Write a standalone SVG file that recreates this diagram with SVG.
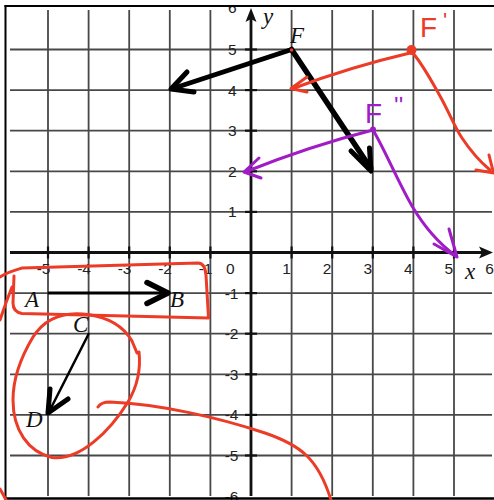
<svg xmlns="http://www.w3.org/2000/svg" width="494" height="500" viewBox="0 0 494 500">
<style>
.grid line{stroke:#484848;stroke-width:1.8}
.ax{stroke:#111;stroke-width:2.8;fill:none}
.tick{stroke:#111;stroke-width:2.2}
.num{font-family:"Liberation Sans",Arial,sans-serif;font-size:15.5px;fill:#222}
.xl{text-anchor:end}
.var{font-family:"Liberation Serif","Times New Roman",serif;font-style:italic;font-size:23px;fill:#111}
.vec{stroke:#000;fill:none;stroke-linecap:round;stroke-linejoin:round}
.red{stroke:#ec3b26;stroke-width:3;fill:none;stroke-linecap:round;stroke-linejoin:round}
.pur{stroke:#a01cc6;stroke-width:3;fill:none;stroke-linecap:round;stroke-linejoin:round}
.hand{font-family:"Liberation Sans",Arial,sans-serif;font-size:28px}
</style>
<rect width="494" height="500" fill="#fff"/>
<g id="grid" class="grid">
<line x1="48" y1="10" x2="48" y2="496"/>
<line x1="88.6" y1="10" x2="88.6" y2="496"/>
<line x1="129.2" y1="10" x2="129.2" y2="496"/>
<line x1="169.8" y1="10" x2="169.8" y2="496"/>
<line x1="210.4" y1="10" x2="210.4" y2="496"/>
<line x1="291.6" y1="10" x2="291.6" y2="496"/>
<line x1="332.2" y1="10" x2="332.2" y2="496"/>
<line x1="372.8" y1="10" x2="372.8" y2="496"/>
<line x1="413.4" y1="10" x2="413.4" y2="496"/>
<line x1="454" y1="10" x2="454" y2="496"/>
<line x1="10" y1="49.5" x2="492" y2="49.5"/>
<line x1="10" y1="90.1" x2="492" y2="90.1"/>
<line x1="10" y1="130.7" x2="492" y2="130.7"/>
<line x1="10" y1="171.3" x2="492" y2="171.3"/>
<line x1="10" y1="211.9" x2="492" y2="211.9"/>
<line x1="10" y1="293.1" x2="492" y2="293.1"/>
<line x1="10" y1="333.7" x2="492" y2="333.7"/>
<line x1="10" y1="374.3" x2="492" y2="374.3"/>
<line x1="10" y1="414.9" x2="492" y2="414.9"/>
<line x1="10" y1="455.5" x2="492" y2="455.5"/>
</g>
<g id="tick-labels" class="num">
<text x="236.5" y="12.5" text-anchor="end">6</text>
<text x="236.5" y="55" text-anchor="end">5</text>
<text x="236.5" y="95.6" text-anchor="end">4</text>
<text x="236.5" y="136.2" text-anchor="end">3</text>
<text x="236.5" y="176.8" text-anchor="end">2</text>
<text x="236.5" y="217.4" text-anchor="end">1</text>
<text x="238.5" y="298.6" text-anchor="end">-1</text>
<text x="238.5" y="339.2" text-anchor="end">-2</text>
<text x="238.5" y="379.8" text-anchor="end">-3</text>
<text x="238.5" y="420.4" text-anchor="end">-4</text>
<text x="238.5" y="461" text-anchor="end">-5</text>
<text x="238.5" y="501.6" text-anchor="end">-6</text>
<text class="xl" x="50.5" y="274">-5</text>
<text class="xl" x="91" y="274">-4</text>
<text class="xl" x="131.5" y="274">-3</text>
<text class="xl" x="172" y="274">-2</text>
<text class="xl" x="212.5" y="274">-1</text>
<text class="xl" x="234.5" y="274">0</text>
<text class="xl" x="290.8" y="274">1</text>
<text class="xl" x="331.4" y="274">2</text>
<text class="xl" x="372" y="274">3</text>
<text class="xl" x="412.6" y="274">4</text>
<text class="xl" x="453.2" y="274">5</text>
<text class="xl" x="493.8" y="274">6</text>
</g>
<rect x="0" y="0" width="494" height="6" fill="#fff"/>
<g id="axes">
<line class="ax" x1="10" y1="252.5" x2="484" y2="252.5"/>
<line class="ax" x1="251" y1="496" x2="251" y2="18"/>
<path d="M493,252.5 L479,246.5 L482,252.5 L479,258.5 Z" fill="#111"/>
<path d="M251,8 L245.5,22 L251,19 L256.5,22 Z" fill="#111"/>
<g class="tick">
<line x1="245" y1="49.5" x2="257" y2="49.5"/>
<line x1="245" y1="90.1" x2="257" y2="90.1"/>
<line x1="245" y1="130.7" x2="257" y2="130.7"/>
<line x1="245" y1="171.3" x2="257" y2="171.3"/>
<line x1="245" y1="211.9" x2="257" y2="211.9"/>
<line x1="245" y1="293.1" x2="257" y2="293.1"/>
<line x1="245" y1="333.7" x2="257" y2="333.7"/>
<line x1="245" y1="374.3" x2="257" y2="374.3"/>
<line x1="245" y1="414.9" x2="257" y2="414.9"/>
<line x1="245" y1="455.5" x2="257" y2="455.5"/>
<line x1="48" y1="246.5" x2="48" y2="258.5"/>
<line x1="88.6" y1="246.5" x2="88.6" y2="258.5"/>
<line x1="129.2" y1="246.5" x2="129.2" y2="258.5"/>
<line x1="169.8" y1="246.5" x2="169.8" y2="258.5"/>
<line x1="210.4" y1="246.5" x2="210.4" y2="258.5"/>
<line x1="291.6" y1="246.5" x2="291.6" y2="258.5"/>
<line x1="332.2" y1="246.5" x2="332.2" y2="258.5"/>
<line x1="372.8" y1="246.5" x2="372.8" y2="258.5"/>
<line x1="413.4" y1="246.5" x2="413.4" y2="258.5"/>
<line x1="454" y1="246.5" x2="454" y2="258.5"/>
</g>
<text class="var" x="263" y="24" font-size="21">y</text>
<text class="var" x="465" y="279" font-size="21">x</text>
</g>
<g id="frame" stroke="#000" fill="none">
<line x1="4.5" y1="6" x2="494" y2="6" stroke-width="2"/>
<line x1="5.5" y1="5" x2="5.5" y2="499" stroke-width="2"/>
<line x1="4.5" y1="498.5" x2="494" y2="498.5" stroke-width="2.5"/>
</g>
<g id="connectors">
<g id="vec-F-to-m2-4">
<path class="vec" stroke-width="5" d="M291.6,49.5 L173,88.5"/>
<path class="vec" stroke-width="5" d="M187,72 L171,89 L194,92"/>
</g>
<g id="vec-F-to-3-2">
<path class="vec" stroke-width="5.5" d="M291.6,49.5 L370.5,168"/>
<path class="vec" stroke-width="5" d="M351,151 L371,171 L369.5,148"/>
</g>
<g id="vec-A-to-B">
<path class="vec" stroke-width="3" d="M49,293 L165,293"/>
<path class="vec" stroke-width="5.5" d="M147,282.5 L168,293 L147,303.5"/>
</g>
<g id="vec-C-to-D">
<path class="vec" stroke-width="2.5" d="M88.6,334 L50,410"/>
<path class="vec" stroke-width="5" d="M50,389 L48,413 L68,399"/>
</g>
</g>
<g id="node-F"><circle cx="291.6" cy="50" r="1.8" fill="#ec3b26"/><text class="var" x="290" y="43">F</text></g>
<g id="node-A"><text class="var" x="25" y="307">A</text></g>
<g id="node-B"><text class="var" x="170" y="307">B</text></g>
<g id="node-C"><text class="var" x="73" y="332">C</text></g>
<g id="node-D"><text class="var" x="26" y="427">D</text></g>
<g id="annotations-red">
<circle cx="411.5" cy="50" r="5" fill="#ec3b26"/>
<text class="hand" x="420" y="37" fill="#ec3b26">F<tspan dx="6" dy="-9" font-size="22">'</tspan></text>
<path class="red" d="M410,53 Q350,67 293,88.5"/>
<path class="red" d="M307,77 L291,88.5 L307,92"/>
<path class="red" d="M413,53 C425,68 432,82 440,96 C450,114 455,128 462,138 C470,150 478,160 490,170"/>
<path class="red" d="M476,170 L494,173 M489,155 L493,171"/>
<path class="red" d="M0,277 C5,273 12,271 22,268 L198,263 Q205,263 206,275 L208.5,318 L22,313.5 Q13,312 13,303 L14,276"/>
<path class="red" d="M0,320 Q6,302 12,287"/>
<path class="red" d="M137,353 L132,341 C125,329 112,318 88,314.5 C63,311 45,318 33,337 C21,357 13,380 13,400 C13,430 28,452 52,457.5 C80,461 110,431 128,402 C138,385 141,370 139,352"/>
<path class="red" d="M98,407 Q101,402 110,402 C160,404 220,418 265,433 C300,445 318,458 331,500"/>
<path class="red" d="M0,489 Q3,494 6,500"/>
</g>
<g id="annotations-purple">
<circle cx="373" cy="129.5" r="3" fill="#a01cc6"/>
<text class="hand" x="365" y="123" fill="#a01cc6">F<tspan dx="12" dy="-9" font-size="24">''</tspan></text>
<path class="pur" d="M373,130 Q310,146 245,172"/>
<path class="pur" d="M259,158 L244,172 L261,178"/>
<path class="pur" d="M373,130 C385,150 398,182 412,206 C425,228 438,243 456,256"/>
<path class="pur" d="M434,244 L457,257 L449,229"/>
</g>
</svg>
